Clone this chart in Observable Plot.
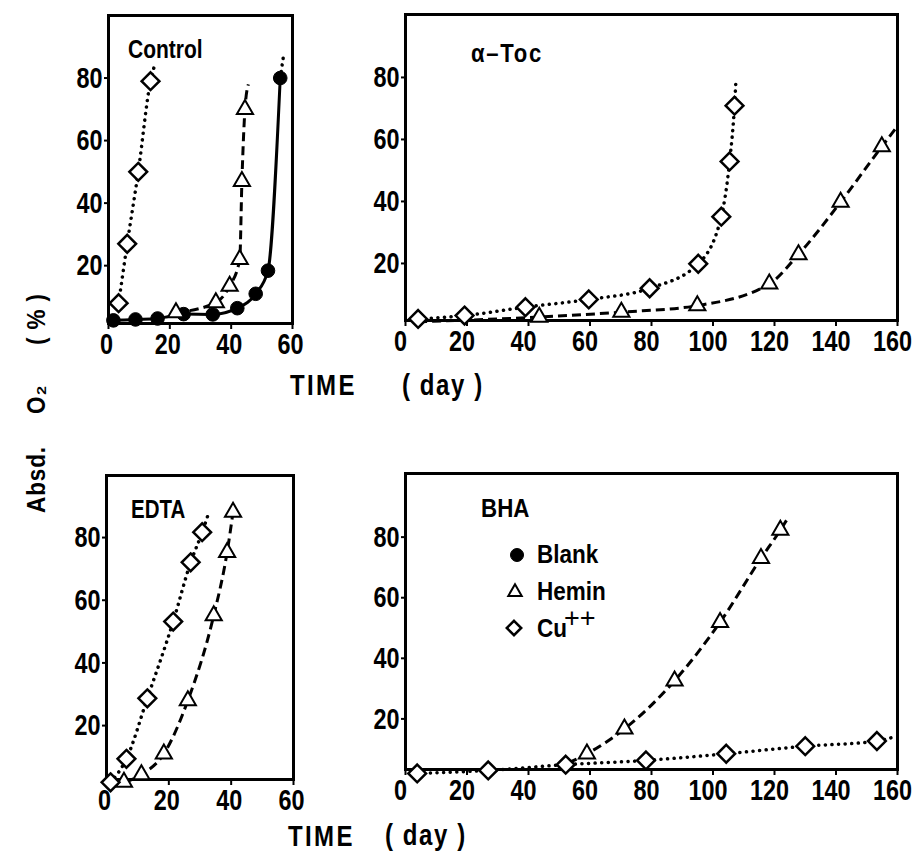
<!DOCTYPE html>
<html><head><meta charset="utf-8">
<script src="https://cdn.jsdelivr.net/npm/d3@7"></script>
<script src="https://cdn.jsdelivr.net/npm/@observablehq/plot@0.6"></script>
<style>
html,body{margin:0;padding:0;background:#fff;}
#wrap{position:relative;width:912px;height:854px;overflow:hidden;background:#fff;}
#wrap .pp{position:absolute;}
#wrap .pp svg{background:transparent;max-width:none;}
#overlay{position:absolute;left:0;top:0;}
</style></head><body><div id="wrap"></div>
<script>
const FONT = "'Liberation Sans',Arial,sans-serif";
const SX = 0.78; // horizontal condensing of the bold sans to mimic a condensed face

// ---- tick values ----
const xTicksShort = [0, 20, 40, 60];
const xTicksLong = [0, 20, 40, 60, 80, 100, 120, 140, 160];
const yTicks = [20, 40, 60, 80];

// ---- Control panel ----
const ctrlBlank = [[1.6,2.5],[8.8,2.8],[16,3.1],[24.5,4.5],[34,4.4],[42,6.4],[48,11],[52,18.4],[56,80]];
const ctrlBlankTail = [57.2, 88];
const ctrlHemin = [[22,5],[35,8.2],[39.5,13.5],[42.8,22],[43.5,47],[44.5,70]];
const ctrlHeminTail = [45.6, 78];
const ctrlCu = [[3.3,8],[6.1,27],[9.7,50],[13.7,79]];
const ctrlCuTail = [15, 84];

// ---- alpha-Toc panel ----
const tocHeminStart = [4.1, 1.2];
const tocHemin = [[43.5,2.7],[70.2,4.3],[94.9,6.4],[118.3,13.4],[127.8,22.9],[141.5,39.8],[154.9,57.7]];
const tocHeminTail = [159.3, 63.4];
const tocCu = [[4.1,2.1],[19.2,3.2],[39,5.9],[59.6,8.4],[79.4,12],[95.2,19.9],[102.7,35.1],[105.4,52.9],[107,70.9]];
const tocCuTail = [107.4, 77.9];

// ---- EDTA panel ----
const edtaHeminStart = [1.5, 1.5];
const edtaHemin = [[5.6,2],[11.2,4.4],[18.4,11],[26.1,28],[34.4,55.1],[38.7,75.3],[40.6,88.1]];
const edtaCu = [[1.3,1.9],[6.4,9.4],[13.1,28.7],[21.4,53.2],[27,72.1],[30.7,81.7]];
const edtaCuTail = [32.5, 87];

// ---- BHA panel ----
const bhaHeminStart = [53, 5.5];
const bhaHemin = [[59,8.5],[71.2,16.7],[87.5,32.6],[102.3,51.9],[115.6,73],[121.9,82.3]];
const bhaHeminTail = [124.6, 86.7];
const bhaCu = [[3.8,2],[26.9,3],[52.1,4.9],[78.2,6.3],[104.3,8.5],[130,11],[153.3,12.7]];
const bhaCuTail = [158.7, 14];

// ---- text ----
const panelNames = ["Control", "α–Toc", "EDTA", "BHA"];
const legendNames = ["Blank", "Hemin", "Cu"];

const STY = {
  blank: {dash: null, w: 3, cap: "butt", symbol: "circle", r: 6.8, fill: "black", sw: 1},
  hemin: {dash: "9,5", w: 3, cap: "butt", symbol: "triangle", r: 6, fill: "white", sw: 2},
  cu:    {dash: "0.1,6.5", w: 3.5, cap: "round", symbol: "diamond2", r: 8, fill: "white", sw: 2.5}
};

const panels = [
  {fx:[108,292], fy:[15,323], xd:[0,60], yd:[1.5,100], xt:xTicksShort, shift:-2, series:[
    {k:"blank", pts:ctrlBlank, tailDotted:ctrlBlankTail},
    {k:"hemin", pts:ctrlHemin, tail:ctrlHeminTail},
    {k:"cu", pts:ctrlCu, tail:ctrlCuTail}]},
  {fx:[405,897], fy:[14,320], xd:[0,160], yd:[1.6,100.3], xt:xTicksLong, shift:-5, series:[
    {k:"hemin", pts:tocHemin, start:tocHeminStart, tail:tocHeminTail},
    {k:"cu", pts:tocCu, tail:tocCuTail}]},
  {fx:[106,293], fy:[475,779], xd:[0,60], yd:[2.8,99.8], xt:xTicksShort, shift:-2, series:[
    {k:"hemin", pts:edtaHemin, start:edtaHeminStart},
    {k:"cu", pts:edtaCu, tail:edtaCuTail}]},
  {fx:[405,897], fy:[473,769], xd:[0,160], yd:[3.3,101], xt:xTicksLong, shift:-5, series:[
    {k:"hemin", pts:bhaHemin, start:bhaHeminStart, tail:bhaHeminTail},
    {k:"cu", pts:bhaCu, tail:bhaCuTail}]}
];

const wrap = document.getElementById("wrap");
const mL = 60, mR = 30, mT = 10, mB = 50;

function condense(textEl, sx, shiftX) {
  let x = parseFloat(textEl.getAttribute("x") || "0");
  if (!isFinite(x)) x = 0;
  const t = textEl.getAttribute("transform") || "";
  textEl.setAttribute("transform",
    `${t} translate(${x + (shiftX || 0)},0) scale(${sx},1) translate(${-x},0)`);
}

for (const p of panels) {
  const w = p.fx[1] - p.fx[0], h = p.fy[1] - p.fy[0];
  const lineMarks = [], dotMarks = [];
  for (const s of p.series) {
    const st = STY[s.k];
    const lp = [...(s.start ? [s.start] : []), ...s.pts, ...(s.tail ? [s.tail] : [])];
    lineMarks.push(Plot.line(lp, {x: d => d[0], y: d => d[1], curve: "monotone-x",
      stroke: "black", strokeWidth: st.w, strokeDasharray: st.dash, strokeLinecap: st.cap}));
    if (s.tailDotted) {
      lineMarks.push(Plot.line([s.pts[s.pts.length - 1], s.tailDotted], {x: d => d[0], y: d => d[1],
        stroke: "black", strokeWidth: 3.5, strokeDasharray: "0.1,6.5", strokeLinecap: "round"}));
    }
    dotMarks.push(Plot.dot(s.pts, {x: d => d[0], y: d => d[1], symbol: st.symbol, r: st.r,
      fill: st.fill, stroke: "black", strokeWidth: st.sw}));
  }
  const chart = Plot.plot({
    width: w + mL + mR, height: h + mT + mB,
    marginLeft: mL, marginRight: mR, marginTop: mT, marginBottom: mB,
    x: {domain: p.xd}, y: {domain: p.yd},
    style: {fontFamily: FONT, fontSize: "30px", fontWeight: "bold", background: "transparent", color: "black", overflow: "visible"},
    marks: [
      ...lineMarks,
      Plot.frame({stroke: "black", strokeWidth: 3}),
      Plot.axisX({ticks: p.xt, tickSize: 6, tickPadding: 3, label: null, strokeWidth: 2}),
      Plot.axisY({ticks: yTicks, tickSize: 4, tickPadding: 2, label: null, strokeWidth: 2}),
      ...dotMarks
    ]
  });
  chart.querySelectorAll('g[aria-label="x-axis tick label"] text').forEach(t => condense(t, SX, p.shift));
  chart.querySelectorAll('g[aria-label="y-axis tick label"] text').forEach(t => condense(t, SX, 0));
  const div = document.createElement("div");
  div.className = "pp";
  div.style.left = (p.fx[0] - mL) + "px";
  div.style.top = (p.fy[0] - mT) + "px";
  div.appendChild(chart);
  wrap.appendChild(div);
}

// ---- overlay: titles, legend, axis labels ----
const ov = d3.select(wrap).append("svg").attr("id", "overlay")
  .attr("width", 912).attr("height", 854)
  .style("font-family", FONT).style("font-weight", "bold");

const textItems = [
  {t: panelNames[0], x: 128, y: 58, s: 25, sx: 0.84},
  {t: panelNames[1], x: 471, y: 62, s: 26, sx: 0.85, ls: 2},
  {t: panelNames[2], x: 131, y: 518, s: 25, sx: 0.82},
  {t: panelNames[3], x: 481, y: 517, s: 26, sx: 0.86},
  {t: legendNames[0], x: 537, y: 563, s: 25, sx: 0.9},
  {t: legendNames[1], x: 537, y: 600, s: 25, sx: 0.9},
  {t: legendNames[2], x: 537, y: 637, s: 25, sx: 0.9},
  {t: "++", x: 564, y: 627, s: 27, sx: 1, wt: "normal"},
  {t: "TIME", x: 290, y: 395, s: 30, sx: 0.8, ls: 3},
  {t: "( day )", x: 402, y: 395, s: 30, sx: 0.8, ls: 2},
  {t: "TIME", x: 288, y: 846, s: 30, sx: 0.8, ls: 3},
  {t: "( day )", x: 385, y: 845, s: 30, sx: 0.8, ls: 2}
];
for (const d of textItems) {
  ov.append("text").attr("transform", `translate(${d.x},${d.y}) scale(${d.sx},1)`)
    .attr("font-size", d.s).attr("letter-spacing", d.ls || 0)
    .attr("font-weight", d.wt || "bold").text(d.t);
}
// rotated y label
const yLab = [{t: "Absd.", y: 513}, {t: "O₂", y: 414}, {t: "( % )", y: 345}];
for (const d of yLab) {
  ov.append("text").attr("transform", `translate(45,${d.y}) rotate(-90) scale(0.9,1)`)
    .attr("font-size", 25).attr("letter-spacing", 1).text(d.t);
}
// legend symbols
const legendSym = [
  {sym: d3.symbolCircle, x: 517, y: 555, size: Math.PI * 6.5 * 6.5, fill: "black", sw: 1},
  {sym: d3.symbolTriangle, x: 515, y: 592, size: Math.PI * 5 * 5, fill: "white", sw: 2},
  {sym: d3.symbolDiamond2, x: 514, y: 628, size: Math.PI * 6.5 * 6.5, fill: "white", sw: 2.5}
];
for (const d of legendSym) {
  ov.append("path").attr("transform", `translate(${d.x},${d.y})`)
    .attr("d", d3.symbol(d.sym, d.size)()).attr("fill", d.fill)
    .attr("stroke", "black").attr("stroke-width", d.sw);
}
</script></body></html>
